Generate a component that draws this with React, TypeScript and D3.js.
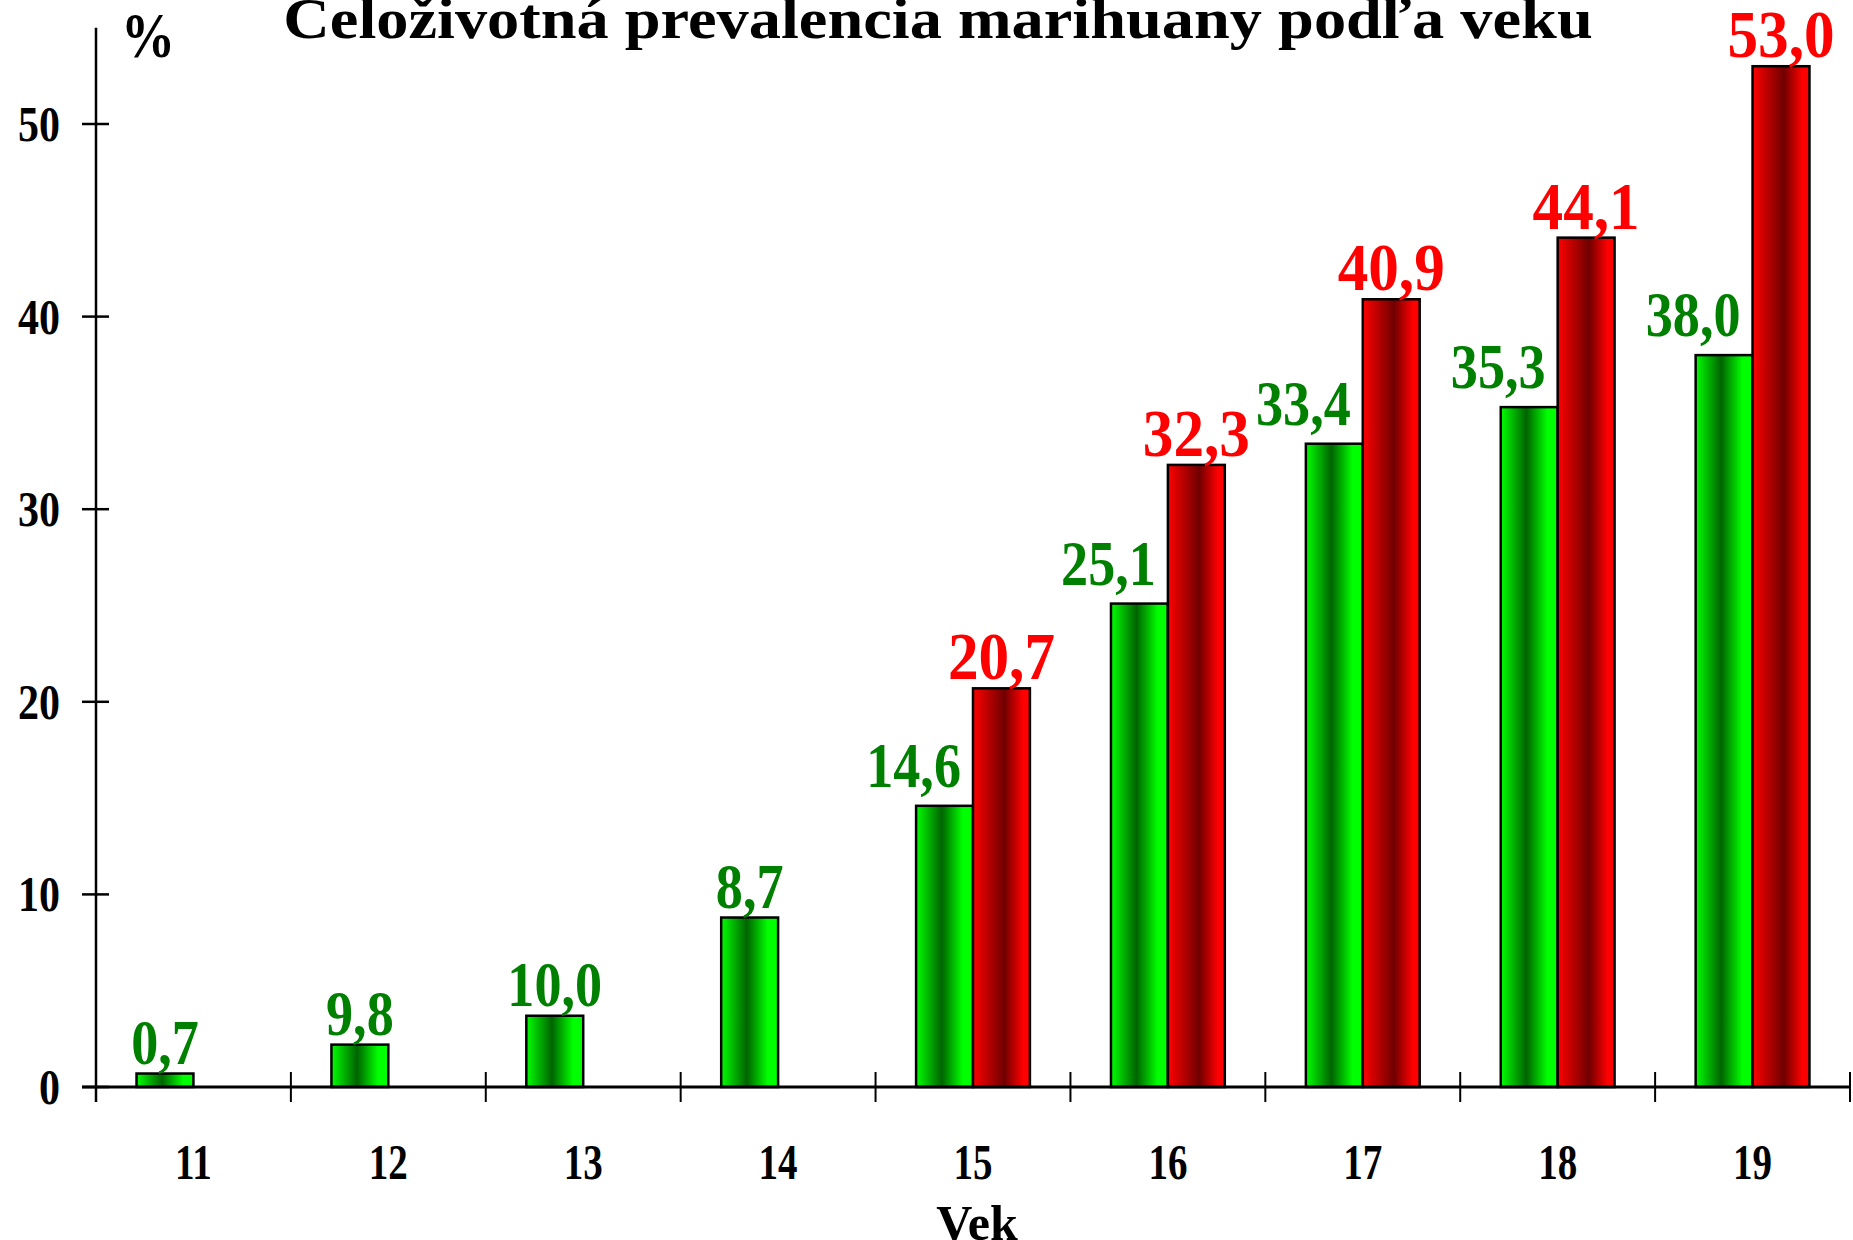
import React from "react";
import * as d3 from "d3";

const categories = ["11", "12", "13", "14", "15", "16", "17", "18", "19"];
const greenValues = [0.7, 2.2, 3.7, 8.8, 14.6, 25.1, 33.4, 35.3, 38.0];
const greenLabels = ["0,7", "9,8", "10,0", "8,7", "14,6", "25,1", "33,4", "35,3", "38,0"];
const redValues: (number | null)[] = [null, null, null, null, 20.7, 32.3, 40.9, 44.1, 53.0];
const yTicks = [0, 10, 20, 30, 40, 50];
const title = "Celoživotná prevalencia marihuany podľa veku";
const xTitle = "Vek";
const yTitle = "%";

const W = 1853;
const H = 1240;
const FONT = "'Liberation Serif', 'Times New Roman', serif";

function Txt(props: {
  x: number; y: number; size: number; sx?: number; anchor?: string; fill?: string; children: React.ReactNode;
}) {
  const { x, y, size, sx = 1, anchor = "middle", fill = "#000", children } = props;
  return (
    <text
      transform={`translate(${x},${y}) scale(${sx},1)`}
      textAnchor={anchor}
      fontFamily={FONT}
      fontWeight="bold"
      fontSize={size}
      fill={fill}
    >
      {children}
    </text>
  );
}

export default function App() {
  const x0 = 96, x1 = 1850;
  const x = d3.scaleBand<string>().domain(categories).range([x0, x1]).padding(0);
  const y = d3.scaleLinear().domain([0, 50]).range([1087, 124]);
  const bw = x.bandwidth() * 0.292;
  const yTop = y(55);
  const fmt = (v: number) => v.toFixed(1).replace(".", ",");

  return (
    <svg width={W} height={H} style={{ position: "absolute", left: 0, top: 0, background: "#fff" }}>
      <defs>
        <linearGradient id="gGreen" x1="0" x2="1" y1="0" y2="0">
          <stop offset="0" stopColor="#00ff00" />
          <stop offset="0.45" stopColor="#006400" />
          <stop offset="0.82" stopColor="#00ff00" />
          <stop offset="1" stopColor="#00ff00" />
        </linearGradient>
        <linearGradient id="gRed" x1="0" x2="1" y1="0" y2="0">
          <stop offset="0" stopColor="#ff0000" />
          <stop offset="0.55" stopColor="#700000" />
          <stop offset="0.88" stopColor="#ff0000" />
          <stop offset="1" stopColor="#ff0000" />
        </linearGradient>
      </defs>

      {/* title */}
      <Txt x={938} y={38} size={58} sx={1.11}>{title}</Txt>
      <Txt x={148} y={57} size={63} sx={0.86}>{yTitle}</Txt>

      {/* bars */}
      {categories.map((c, i) => {
        const cx = (x(c) as number) + x.bandwidth() / 2;
        const gv = greenValues[i];
        const rv = redValues[i];
        return (
          <g key={c}>
            <rect x={cx - bw} y={y(gv)} width={bw} height={y(0) - y(gv)} fill="url(#gGreen)" stroke="#000" strokeWidth={2.5} />
            {rv != null && (
              <rect x={cx} y={y(rv)} width={bw} height={y(0) - y(rv)} fill="url(#gRed)" stroke="#000" strokeWidth={2.5} />
            )}
          </g>
        );
      })}

      {/* labels */}
      {categories.map((c, i) => {
        const cx = (x(c) as number) + x.bandwidth() / 2;
        const gv = greenValues[i];
        const rv = redValues[i];
        return (
          <g key={"l" + c}>
            {rv == null ? (
              <Txt x={cx - bw / 2} y={y(gv) - 10} size={63} sx={0.86} fill="#008000">{greenLabels[i]}</Txt>
            ) : (
              <Txt x={cx - 12} y={y(gv) - 19} size={63} sx={0.86} anchor="end" fill="#008000">{greenLabels[i]}</Txt>
            )}
            {rv != null && (
              <Txt x={cx + bw / 2} y={y(rv) - 9} size={68} sx={0.9} fill="#ff0000">{fmt(rv)}</Txt>
            )}
          </g>
        );
      })}

      {/* axes */}
      <line x1={x0} x2={x0} y1={yTop} y2={y(0) + 15} stroke="#000" strokeWidth={2.5} />
      <line x1={x0 - 14} x2={x1} y1={y(0)} y2={y(0)} stroke="#000" strokeWidth={3} />
      {yTicks.map((t) => (
        <g key={"yt" + t}>
          <line x1={x0 - 14} x2={x0 + 13} y1={y(t)} y2={y(t)} stroke="#000" strokeWidth={2.5} />
          <Txt x={60} y={y(t) + 17} size={50} sx={0.84} anchor="end">{t}</Txt>
        </g>
      ))}
      {categories.map((c) => {
        const bx = (x(c) as number) + x.bandwidth();
        return <line key={"xt" + c} x1={bx} x2={bx} y1={y(0) - 15} y2={y(0) + 15} stroke="#000" strokeWidth={2} />;
      })}
      {categories.map((c) => {
        const cx = (x(c) as number) + x.bandwidth() / 2;
        return <Txt key={"xl" + c} x={cx} y={1179} size={50} sx={0.78}>{c}</Txt>;
      })}
      <Txt x={977} y={1240} size={50}>{xTitle}</Txt>
    </svg>
  );
}
